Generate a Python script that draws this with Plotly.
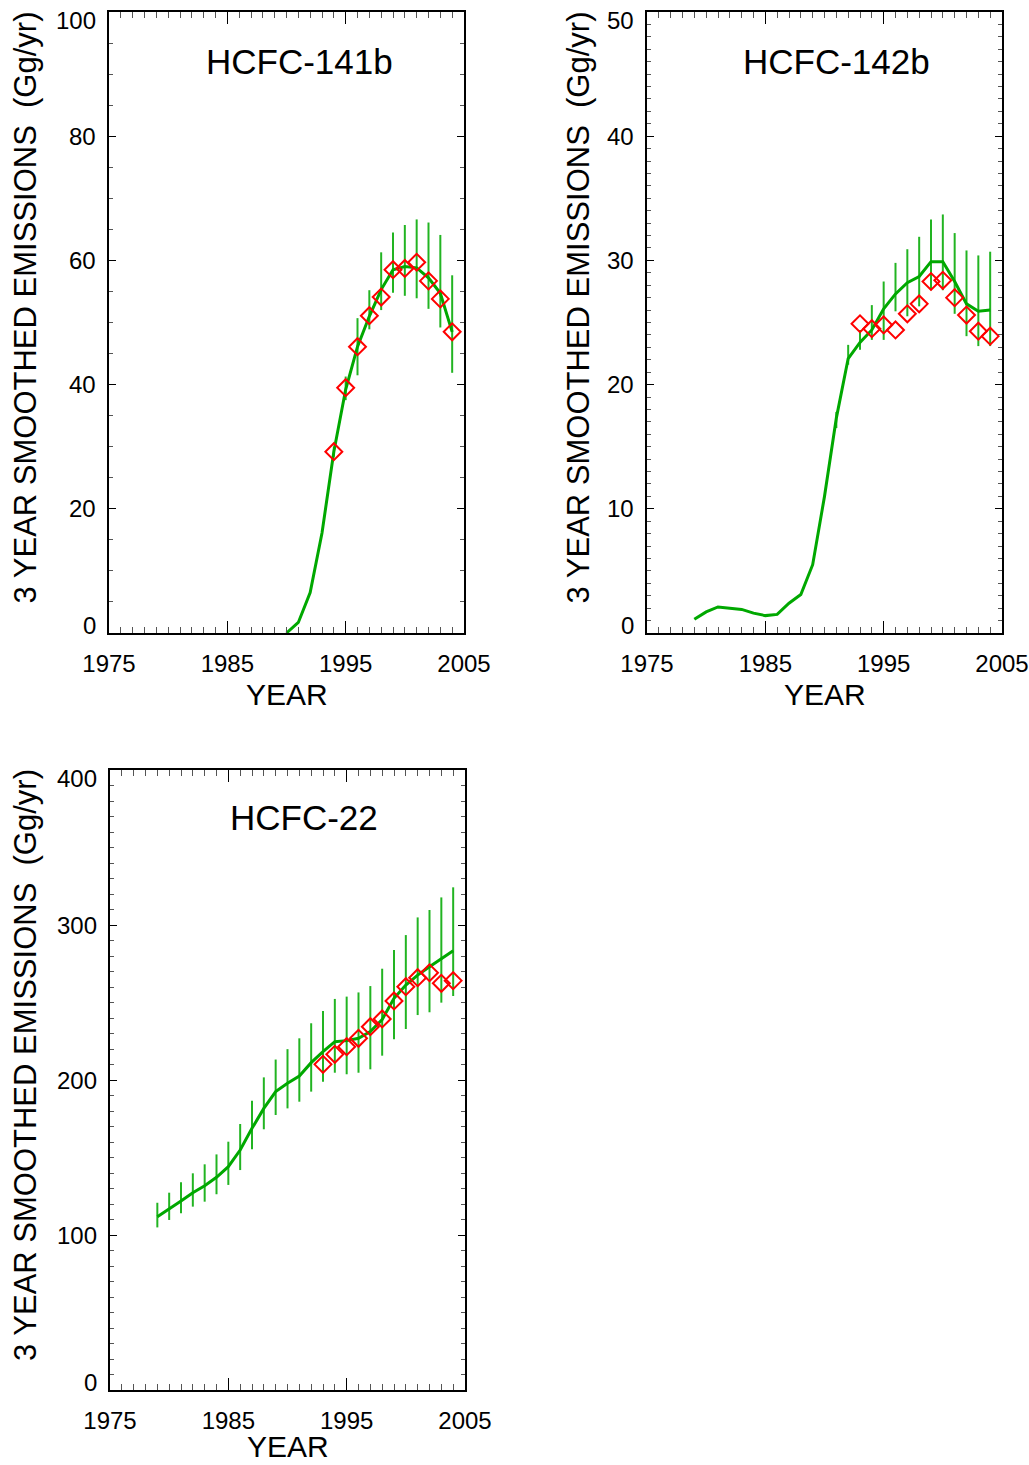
import plotly.graph_objects as go

# ---------------- data ----------------
# HCFC-141b
yrs_141b_line = list(range(1990, 2005))
emis_141b_line = [0.0, 1.7, 6.5, 16.1, 29.2, 39.2, 46.1, 51.0, 55.3, 58.5, 59.0, 58.8, 57.2, 54.7, 48.5]
yrs_141b_err = list(range(1994, 2005))
err_hi_141b = [30.0, 41.3, 50.7, 55.2, 61.3, 64.5, 65.7, 66.6, 66.1, 64.1, 57.6]
err_lo_141b = [28.4, 37.5, 41.5, 48.9, 52.0, 54.8, 54.3, 53.9, 52.2, 49.2, 41.9]
yrs_141b_obs = list(range(1994, 2005))
obs_141b = [29.2, 39.5, 46.1, 51.1, 54.1, 58.5, 58.7, 59.7, 56.7, 53.8, 48.5]

# HCFC-142b
yrs_142b_line = list(range(1979, 2005))
emis_142b_line = [1.1, 1.7, 2.1, 2.0, 1.9, 1.6, 1.4, 1.5, 2.4, 3.1, 5.5, 11.0, 17.3, 22.1,
                  23.4, 24.4, 26.1, 27.3, 28.2, 28.7, 29.9, 29.9, 28.3, 26.5, 25.9, 26.0]
yrs_142b_err = list(range(1991, 2005))
err_hi_142b = [17.8, 23.2, 24.4, 26.4, 28.3, 29.8, 30.9, 31.9, 33.3, 33.7, 32.2, 30.8, 30.4, 30.7]
err_lo_142b = [16.5, 21.6, 22.8, 23.6, 23.6, 25.9, 25.5, 26.3, 27.6, 27.6, 25.7, 23.9, 23.1, 23.1]
yrs_142b_obs = list(range(1993, 2005))
obs_142b = [24.9, 24.5, 24.8, 24.4, 25.7, 26.5, 28.3, 28.4, 27.0, 25.6, 24.3, 23.9]

# HCFC-22
yrs_22_line = list(range(1979, 2005))
emis_22_line = [111.8, 116.6, 121.9, 127.3, 131.8, 137.2, 144.1, 154.8, 168.8, 181.7, 192.5, 197.9,
                202.6, 211.2, 218.3, 224.7, 225.4, 226.9, 231.2, 239.0, 252.7, 261.3, 267.7, 273.1,
                278.5, 283.4]
yrs_22_err = list(range(1979, 2005))
err_hi_22 = [120.8, 127.3, 134.0, 139.8, 145.6, 152.0, 160.2, 171.6, 186.6, 201.7, 213.2, 219.9,
             226.9, 236.6, 244.5, 252.3, 253.8, 256.5, 260.6, 271.8, 283.9, 293.5, 304.9, 309.7,
             317.8, 324.3]
err_lo_22 = [104.9, 109.7, 114.0, 118.3, 121.5, 126.3, 132.3, 141.9, 155.3, 168.2, 177.4, 181.7,
             186.0, 192.5, 198.9, 204.7, 203.7, 204.7, 206.9, 215.7, 226.3, 232.9, 241.9, 243.7,
             249.9, 254.2]
yrs_22_obs = list(range(1993, 2005))
obs_22 = [210.1, 216.6, 221.5, 226.9, 234.4, 239.4, 251.0, 260.2, 266.0, 269.2, 262.4, 264.1]

titles = ["HCFC-141b", "HCFC-142b", "HCFC-22"]
x_tickvals = [1975, 1985, 1995, 2005]
x_ticktext = ["1975", "1985", "1995", "2005"]
y_ticks_141b = [0, 20, 40, 60, 80, 100]
y_ticks_142b = [0, 10, 20, 30, 40, 50]
y_ticks_22 = [0, 100, 200, 300, 400]
y_title = "3 YEAR SMOOTHED EMISSIONS  (Gg/yr)"
x_title = "YEAR"

# ---------------- styling ----------------
FONT = "Liberation Sans, Arial, Helvetica, sans-serif"
W, H = 1029, 1465
LINE_C = "#00a800"
ERR_C = "#22b422"
OBS_C = "#ff0000"

panels = [
    dict(xs="x", ys="y", xdom=[109 / W, 464 / W], ydom=[1 - 633 / H, 1 - 12 / H], yr=[0, 100],
         yt=y_ticks_141b, ydt=5, line=(yrs_141b_line, emis_141b_line),
         err=(yrs_141b_err, err_hi_141b, err_lo_141b), obs=(yrs_141b_obs, obs_141b),
         title=titles[0], tx=0.538, ty=0.9195, ytx=25 / W, xts=-61),
    dict(xs="x2", ys="y2", xdom=[647 / W, 1002 / W], ydom=[1 - 633 / H, 1 - 12 / H], yr=[0, 50],
         yt=y_ticks_142b, ydt=1, line=(yrs_142b_line, emis_142b_line),
         err=(yrs_142b_err, err_hi_142b, err_lo_142b), obs=(yrs_142b_obs, obs_142b),
         title=titles[1], tx=0.535, ty=0.9195, ytx=578 / W, xts=-61),
    dict(xs="x3", ys="y3", xdom=[110 / W, 465 / W], ydom=[1 - 1390 / H, 1 - 770 / H], yr=[0, 400],
         yt=y_ticks_22, ydt=10, line=(yrs_22_line, emis_22_line),
         err=(yrs_22_err, err_hi_22, err_lo_22), obs=(yrs_22_obs, obs_22),
         title=titles[2], tx=0.546, ty=0.9226, ytx=25 / W, xts=-56),
]

fig = go.Figure()
annotations = []
layout = {}

for i, p in enumerate(panels):
    xs, ys = p["xs"], p["ys"]
    ey, ehi, elo = p["err"]
    fig.add_trace(go.Scatter(
        x=ey, y=elo, mode="markers", marker=dict(size=1, opacity=0),
        error_y=dict(type="data", symmetric=False,
                     array=[h - l for h, l in zip(ehi, elo)], arrayminus=[0] * len(elo),
                     color=ERR_C, thickness=2, width=0),
        xaxis=xs, yaxis=ys, showlegend=False, hoverinfo="skip"))
    lx, lv = p["line"]
    fig.add_trace(go.Scatter(x=lx, y=lv, mode="lines", line=dict(color=LINE_C, width=3),
                             xaxis=xs, yaxis=ys, showlegend=False))
    ox, ov = p["obs"]
    fig.add_trace(go.Scatter(x=ox, y=ov, mode="markers",
                             marker=dict(symbol="diamond-open", size=13, color=OBS_C,
                                         line=dict(color=OBS_C, width=2)),
                             xaxis=xs, yaxis=ys, showlegend=False, cliponaxis=False))

    kx = "xaxis" if i == 0 else f"xaxis{i + 1}"
    ky = "yaxis" if i == 0 else f"yaxis{i + 1}"
    layout[kx] = dict(domain=p["xdom"], anchor=ys, range=[1975, 2005], automargin=False,
                      tickvals=x_tickvals, ticktext=x_ticktext, ticks="inside", ticklen=12,
                      tickwidth=1.2, tickcolor="black", showline=True, linecolor="black",
                      linewidth=1.5, mirror="ticks", showgrid=False, zeroline=False,
                      tickfont=dict(family=FONT, size=24, color="black"),
                      ticklabelstandoff=8,
                      minor=dict(dtick=1, tick0=1975, ticks="inside", ticklen=6,
                                 tickwidth=1, tickcolor="#555555", showgrid=False))
    layout[ky] = dict(domain=p["ydom"], anchor=xs, range=p["yr"], automargin=False,
                      tickvals=p["yt"], ticks="inside", ticklen=7, tickwidth=1.2,
                      tickcolor="black", showline=True, linecolor="black", linewidth=1.5,
                      mirror="ticks", showgrid=False, zeroline=False, showticklabels=False,
                      minor=dict(dtick=p["ydt"], tick0=0, ticks="inside", ticklen=4,
                                 tickwidth=1, tickcolor="#555555", showgrid=False))

    # y tick labels (IDL keeps end labels inside the axis span)
    n = len(p["yt"])
    for j, v in enumerate(p["yt"]):
        shift = 8 if j == 0 else (-8 if j == n - 1 else 0)
        annotations.append(dict(xref=f"{xs} domain", yref=ys, x=0, y=v, text=str(v),
                                showarrow=False, xanchor="right", yanchor="middle",
                                xshift=-11, yshift=shift,
                                font=dict(family=FONT, size=24, color="black")))
    # panel title
    annotations.append(dict(xref=f"{xs} domain", yref=f"{ys} domain", x=p["tx"], y=p["ty"],
                            text=p["title"], showarrow=False, xanchor="center",
                            yanchor="middle", font=dict(family=FONT, size=35, color="black")))
    # x axis title
    annotations.append(dict(xref=f"{xs} domain", yref=f"{ys} domain", x=0.5, y=0,
                            text=x_title, showarrow=False, xanchor="center", yanchor="middle",
                            yshift=p["xts"], font=dict(family=FONT, size=30, color="black")))
    # y axis title
    annotations.append(dict(xref="paper", yref=f"{ys} domain", x=p["ytx"], y=0.5,
                            text=y_title, showarrow=False, xanchor="center", yanchor="middle",
                            textangle=-90, yshift=15,
                            font=dict(family=FONT, size=31, color="black")))

fig.update_layout(width=W, height=H, margin=dict(l=0, r=0, t=0, b=0, autoexpand=False),
                  paper_bgcolor="white", plot_bgcolor="white",
                  annotations=annotations, **layout)

fig.write_html("out.html")
